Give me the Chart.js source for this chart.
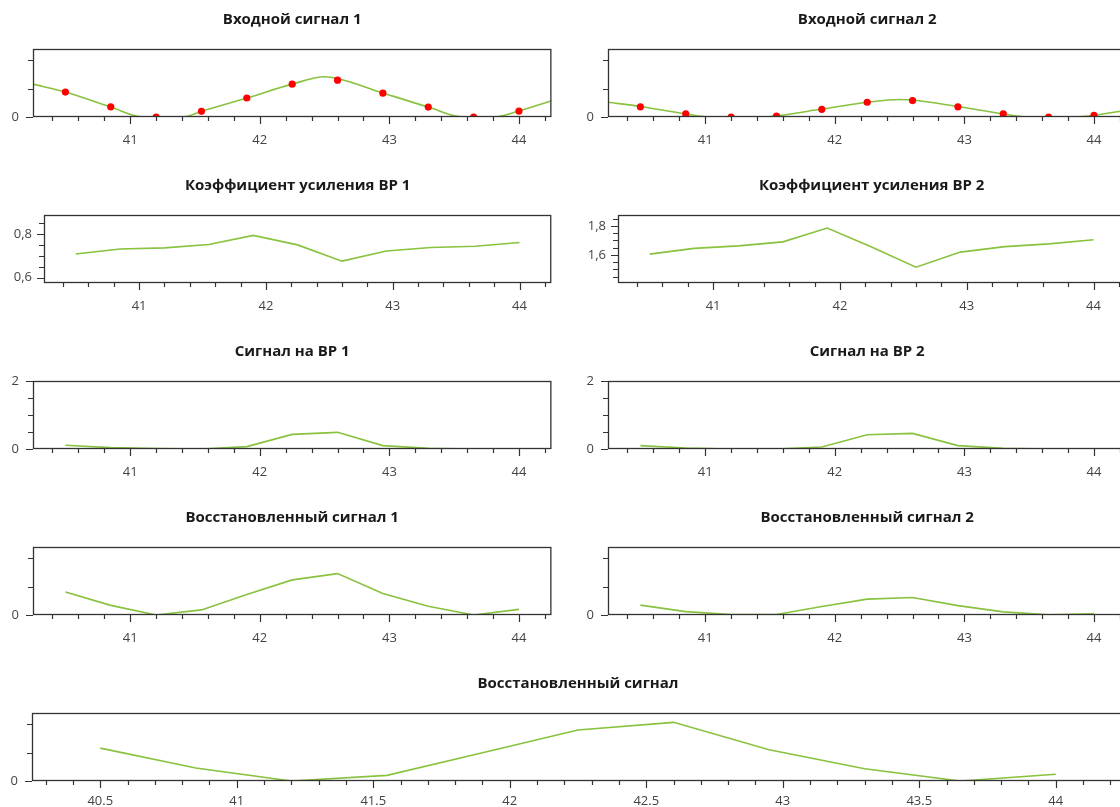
<!DOCTYPE html>
<html>
<head>
<meta charset="utf-8">
<script src="https://cdn.jsdelivr.net/npm/chart.js@4.4.1/dist/chart.umd.min.js"></script>
<style>
  html, body { margin: 0; padding: 0; background: #fff; overflow: hidden; width: 1120px; height: 807px; }
  canvas { position: absolute; }
</style>
</head>
<body>
<canvas id="c-in1"></canvas>
<canvas id="c-in2"></canvas>
<canvas id="c-k1"></canvas>
<canvas id="c-k2"></canvas>
<canvas id="c-s1"></canvas>
<canvas id="c-s2"></canvas>
<canvas id="c-r1"></canvas>
<canvas id="c-r2"></canvas>
<canvas id="c-r"></canvas>
<script>
// sample positions shared by every plot
const SAMPLE_X = [40.5, 40.85, 41.2, 41.55, 41.9, 42.25, 42.6, 42.95, 43.3, 43.65, 44.0];

// input signals: continuous curve + red samples
const INPUT1_CURVE_X = [40.25, 40.5, 40.85, 41.1, 41.4, 41.55, 41.9, 42.25, 42.5, 42.6, 42.95, 43.3, 43.57, 43.8, 44.0, 44.25];
const INPUT1_CURVE_Y = [1.16, 0.88, 0.35, 0, 0, 0.2, 0.67, 1.16, 1.42, 1.36, 0.85, 0.35, 0, 0, 0.21, 0.57];
const INPUT1_SAMPLES = [0.88, 0.36, 0, 0.2, 0.67, 1.16, 1.3, 0.84, 0.35, 0, 0.21];

const INPUT2_CURVE_X = [40.25, 40.5, 40.85, 41.05, 41.45, 41.55, 41.9, 42.25, 42.5, 42.6, 42.95, 43.3, 43.5, 43.85, 44.0, 44.25];
const INPUT2_CURVE_Y = [0.52, 0.37, 0.11, 0, 0, 0.04, 0.28, 0.52, 0.62, 0.6, 0.37, 0.11, 0, 0, 0.06, 0.24];
const INPUT2_SAMPLES = [0.36, 0.11, 0, 0.03, 0.27, 0.52, 0.58, 0.36, 0.11, 0, 0.06];

// gain coefficients
const GAIN1 = [0.709, 0.732, 0.737, 0.753, 0.795, 0.751, 0.676, 0.723, 0.739, 0.745, 0.762];
const GAIN2 = [1.605, 1.645, 1.662, 1.69, 1.786, 1.655, 1.514, 1.619, 1.657, 1.676, 1.705];

// signal on the receivers
const SIGNAL_VR1 = [0.11, 0.04, 0.01, 0, 0.07, 0.43, 0.49, 0.1, 0.02, 0, 0];
const SIGNAL_VR2 = [0.1, 0.03, 0, 0, 0.06, 0.42, 0.46, 0.1, 0.02, 0, 0];

// restored signals
const RESTORED1 = [0.81, 0.34, 0, 0.18, 0.72, 1.24, 1.46, 0.76, 0.31, 0, 0.2];
const RESTORED2 = [0.35, 0.12, 0.02, 0.02, 0.3, 0.56, 0.62, 0.33, 0.11, 0.01, 0.04];
const RESTORED_SUM = [1.16, 0.46, 0, 0.2, 1.0, 1.8, 2.07, 1.1, 0.43, 0, 0.24];

// axis ticks and the ones that carry a label
const X_RANGE = [40.25, 44.25];
const X_TICKS = [40.4, 40.6, 40.8, 41, 41.2, 41.4, 41.6, 41.8, 42, 42.2, 42.4, 42.6, 42.8, 43, 43.2, 43.4, 43.6, 43.8, 44, 44.2];
const X_LABELS = [41, 42, 43, 44];
const X_TICKS_WIDE = [40.3, 40.4, 40.5, 40.6, 40.7, 40.8, 40.9, 41, 41.1, 41.2, 41.3, 41.4, 41.5, 41.6, 41.7, 41.8, 41.9, 42,
  42.1, 42.2, 42.3, 42.4, 42.5, 42.6, 42.7, 42.8, 42.9, 43, 43.1, 43.2, 43.3, 43.4, 43.5, 43.6, 43.7, 43.8, 43.9, 44, 44.1, 44.2];
const X_LABELS_WIDE = [40.5, 41, 41.5, 42, 42.5, 43, 43.5, 44];

const Y_TICKS_SIGNAL = [0, 1, 2];
const Y_LABELS_SIGNAL = [0];
const Y_TICKS_GAIN1 = [0.6, 0.65, 0.7, 0.75, 0.8, 0.85];
const Y_LABELS_GAIN1 = [0.6, 0.8];
const Y_TICKS_GAIN2 = [1.45, 1.5, 1.55, 1.6, 1.65, 1.7, 1.75, 1.8, 1.85];
const Y_LABELS_GAIN2 = [1.6, 1.8];
const Y_TICKS_VR = [0, 0.5, 1, 1.5, 2];
const Y_LABELS_VR = [0, 2];

const LINE_COLOR = '#88c23e';
const DOT_COLOR = '#ff0000';
const AXIS_COLOR = '#333333';
const TEXT_COLOR = '#444444';
const FONT = "'Open Sans', 'Noto Sans', sans-serif";

function near(a, b) { return Math.abs(a - b) < 1e-6; }
function hasLabel(list, v) { return list.some(l => near(l, v)); }

function toPoints(xs, ys) {
  return xs.map((x, i) => ({ x, y: ys[i] }));
}

// frame around the plot plus long/short tick marks
const framePlugin = {
  id: 'frame',
  afterDraw(chart) {
    const { ctx, chartArea: a } = chart;
    const xs = chart.scales.x, ys = chart.scales.y;
    const cfg = chart.options.plugins.frame;
    ctx.save();
    ctx.strokeStyle = AXIS_COLOR;
    ctx.lineWidth = 1.3;
    ctx.strokeRect(a.left + 0.5, a.top + 0.5, a.right - a.left - 1, a.bottom - a.top - 1);
    ctx.lineWidth = 1.2;
    ctx.beginPath();
    xs.ticks.forEach(t => {
      const px = Math.round(xs.getPixelForValue(t.value)) + 0.5;
      const len = hasLabel(cfg.xLabels, t.value) ? 7 : 4;
      ctx.moveTo(px, a.bottom);
      ctx.lineTo(px, a.bottom + len);
    });
    ys.ticks.forEach(t => {
      const py = Math.round(ys.getPixelForValue(t.value)) + 0.5;
      const len = hasLabel(cfg.yLabels, t.value) ? 7 : 5;
      ctx.moveTo(a.left, py);
      ctx.lineTo(a.left - len, py);
    });
    ctx.stroke();
    ctx.restore();
  }
};

function makeChart(id, o) {
  const canvas = document.getElementById(id);
  canvas.width = o.width;
  canvas.height = o.height;
  canvas.style.left = o.left + 'px';
  canvas.style.top = o.top + 'px';

  const datasets = [];
  if (o.samples) {
    datasets.push({
      data: toPoints(SAMPLE_X, o.samples),
      showLine: false,
      pointRadius: 3.6,
      pointBackgroundColor: DOT_COLOR,
      pointBorderWidth: 0,
      order: 0,
    });
  }
  datasets.push({
    data: toPoints(o.lineX, o.lineY),
    borderColor: LINE_COLOR,
    borderWidth: 1.6,
    pointRadius: 0,
    cubicInterpolationMode: o.smooth ? 'monotone' : 'default',
    tension: 0,
    order: 1,
  });

  const xTicks = o.xTicks || X_TICKS;
  const xLabels = o.xLabels || X_LABELS;

  return new Chart(canvas, {
    type: 'line',
    data: { datasets },
    plugins: [framePlugin],
    options: {
      responsive: false,
      animation: false,
      layout: { padding: { left: 0, right: o.width - o.plotRight, top: 0, bottom: 0 } },
      plugins: {
        legend: { display: false },
        tooltip: { enabled: false },
        title: {
          display: true,
          text: o.title,
          fullSize: false,
          color: '#1a1a1a',
          font: { family: FONT, size: 15, weight: 'bold' },
          padding: { top: 11, bottom: 20 },
        },
        frame: { xLabels, yLabels: o.yLabels },
      },
      scales: {
        x: {
          type: 'linear',
          min: X_RANGE[0],
          max: X_RANGE[1],
          grid: { display: false, drawTicks: false },
          border: { display: false },
          afterBuildTicks(scale) { scale.ticks = xTicks.map(v => ({ value: v })); },
          afterFit(scale) { scale.height = o.height - 117; },
          ticks: {
            autoSkip: false,
            maxRotation: 0,
            padding: o.xPad || 15,
            color: TEXT_COLOR,
            font: { family: FONT, size: 13 },
            callback: v => hasLabel(xLabels, v) ? String(Math.round(v * 10) / 10) : '',
          },
        },
        y: {
          min: o.yMin,
          max: o.yMax,
          grid: { display: false, drawTicks: false },
          border: { display: false },
          afterBuildTicks(scale) { scale.ticks = o.yTicks.map(v => ({ value: v })); },
          afterFit(scale) { scale.width = o.yWidth; },
          ticks: {
            autoSkip: false,
            padding: o.yPad || 14,
            color: TEXT_COLOR,
            font: { family: FONT, size: 13 },
            callback: v => hasLabel(o.yLabels, v) ? String(Math.round(v * 10) / 10).replace('.', ',') : '',
          },
        },
      },
    },
  });
}

const ROW_H = 166;
const COL_W = 560;
const RIGHT_COL = 575;

function panel(id, row, col, o) {
  return makeChart(id, Object.assign({
    left: col === 0 ? 0 : RIGHT_COL - 1 * (o.yWidth > 33),
    top: row * ROW_H,
    width: COL_W,
    height: ROW_H,
    plotRight: 553,
  }, o));
}

const signalAxis = { yMin: 0, yMax: 2.4, yTicks: Y_TICKS_SIGNAL, yLabels: Y_LABELS_SIGNAL, yWidth: 33 };
const vrAxis = { yMin: 0, yMax: 2, yTicks: Y_TICKS_VR, yLabels: Y_LABELS_VR, yWidth: 33 };

panel('c-in1', 0, 0, Object.assign({ title: 'Входной сигнал 1', lineX: INPUT1_CURVE_X, lineY: INPUT1_CURVE_Y, samples: INPUT1_SAMPLES, smooth: true }, signalAxis));
panel('c-in2', 0, 1, Object.assign({ title: 'Входной сигнал 2', lineX: INPUT2_CURVE_X, lineY: INPUT2_CURVE_Y, samples: INPUT2_SAMPLES, smooth: true }, signalAxis));

panel('c-k1', 1, 0, { title: 'Коэффициент усиления ВР 1', lineX: SAMPLE_X, lineY: GAIN1,
  yMin: 0.575, yMax: 0.889, yTicks: Y_TICKS_GAIN1, yLabels: Y_LABELS_GAIN1, yWidth: 44, yPad: 12 });
panel('c-k2', 1, 1, { title: 'Коэффициент усиления ВР 2', lineX: SAMPLE_X, lineY: GAIN2,
  yMin: 1.405, yMax: 1.876, yTicks: Y_TICKS_GAIN2, yLabels: Y_LABELS_GAIN2, yWidth: 44, yPad: 12 });

panel('c-s1', 2, 0, Object.assign({ title: 'Сигнал на ВР 1', lineX: SAMPLE_X, lineY: SIGNAL_VR1 }, vrAxis));
panel('c-s2', 2, 1, Object.assign({ title: 'Сигнал на ВР 2', lineX: SAMPLE_X, lineY: SIGNAL_VR2 }, vrAxis));

panel('c-r1', 3, 0, Object.assign({ title: 'Восстановленный сигнал 1', lineX: SAMPLE_X, lineY: RESTORED1 }, signalAxis));
panel('c-r2', 3, 1, Object.assign({ title: 'Восстановленный сигнал 2', lineX: SAMPLE_X, lineY: RESTORED2 }, signalAxis));

makeChart('c-r', Object.assign({
  title: 'Восстановленный сигнал', lineX: SAMPLE_X, lineY: RESTORED_SUM,
  left: 0, top: 4 * ROW_H, width: 1130, height: 807 - 4 * ROW_H, plotRight: 1124,
  xTicks: X_TICKS_WIDE, xLabels: X_LABELS_WIDE, xPad: 12,
}, signalAxis, { yWidth: 32 }));
</script>
</body>
</html>
